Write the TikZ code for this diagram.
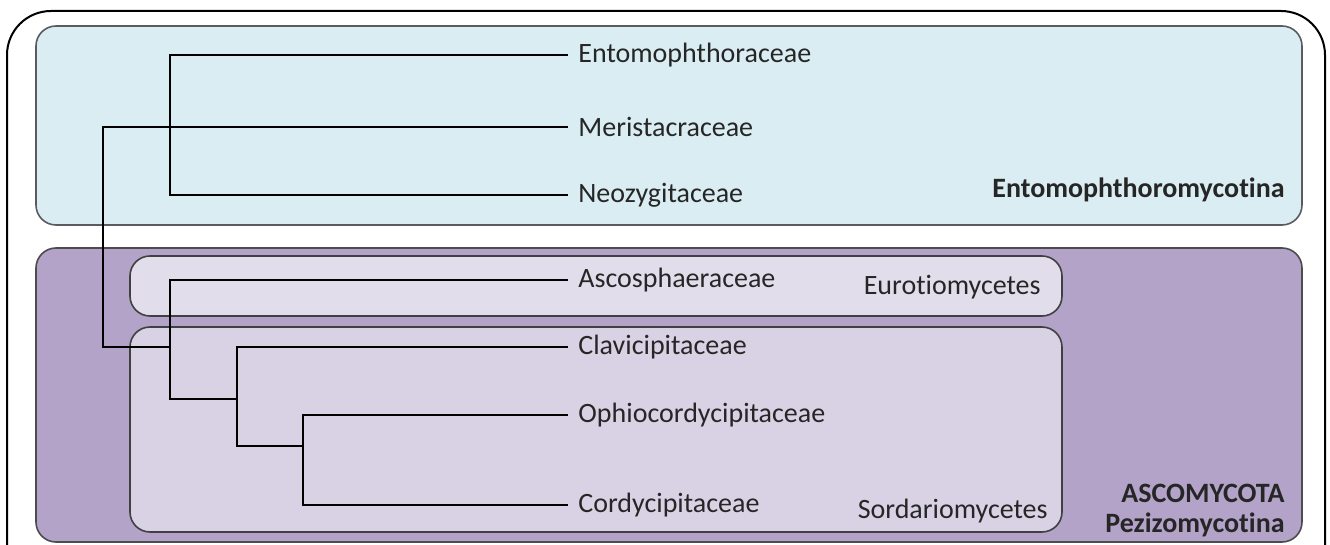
\documentclass[tikz,border=0pt]{standalone}
\usepackage{fontspec}
\setmainfont{Carlito}[Ligatures={NoCommon,NoContextual}]
\definecolor{bluefill}{HTML}{DAEDF3}
\definecolor{purplefill}{HTML}{B3A3C8}
\definecolor{eurofill}{HTML}{E2DDEB}
\definecolor{sordfill}{HTML}{D9D1E4}
\definecolor{boxline}{HTML}{5A5A60}
\definecolor{textcol}{HTML}{262626}
\begin{document}
\begin{tikzpicture}[x=0.5pt,y=-0.5pt,
  taxon/.style={anchor=west,inner sep=0pt,font=\fontsize{14}{16}\selectfont,text=textcol},
  grouplabel/.style={anchor=east,inner sep=0pt,font=\fontsize{14}{16}\selectfont,text=textcol},
  boldlabel/.style={anchor=east,inner sep=0pt,font=\fontsize{14}{16}\selectfont\bfseries,text=textcol,align=right},
  branch/.style={line width=1.4pt,black},
  groupbox/.style={draw=boxline,line width=0.8pt,rounded corners=10pt}]
\useasboundingbox (0,0) rectangle (1330,545);
% outer frame (open at bottom)
\draw[line width=1pt,rounded corners=22pt] (7,560) -- (7,11) -- (1325,11) -- (1325,560);
% group boxes
\draw[groupbox,fill=bluefill] (36,26) rectangle (1302,225);
\draw[groupbox,fill=purplefill,draw=black!70] (36,248) rectangle (1302,542);
\draw[groupbox,fill=eurofill,draw=black!75] (130,256) rectangle (1062,316);
\draw[groupbox,fill=sordfill,draw=black!75] (130,327) rectangle (1062,532);
% leaves
\node[taxon] (ento) at (578,55) {Entomophthoraceae};
\node[taxon] (meri) at (578,127) {Meristacraceae};
\node[taxon] (neoz) at (578,195) {Neozygitaceae};
\node[taxon] (asco) at (578,280) {Ascosphaeraceae};
\node[taxon] (clav) at (578,347) {Clavicipitaceae};
\node[taxon] (ophi) at (578,415) {Ophiocordycipitaceae};
\node[taxon] (cord) at (578,505) {Cordycipitaceae};
% group labels
\node[boldlabel] (entomyc) at (1285,190) {Entomophthoromycotina};
\node[grouplabel] (euro) at (1041,287) {Eurotiomycetes};
\node[grouplabel] (sord) at (1048,511) {Sordariomycetes};
\node[boldlabel] (ascomy) at (1285,493) {ASCOMYCOTA};
\node[boldlabel] (pezi) at (1285,525) {Pezizomycotina};
% internal nodes
\coordinate (root) at (103,127);
\coordinate (rootlow) at (103,347);
\coordinate (n2) at (170,347);
\coordinate (n3) at (237,399);
\coordinate (n4) at (303,446);
% branches
\draw[branch] ([xshift=-5pt]ento.west) -| (170,127) |- ([xshift=-5pt]neoz.west);
\draw[branch] ([xshift=-5pt]meri.west) -- (root) -- (rootlow) -- (n2);
\draw[branch] ([xshift=-5pt]asco.west) -| (170,399) -- (n3);
\draw[branch] ([xshift=-5pt]clav.west) -| (237,446) -- (n4);
\draw[branch] ([xshift=-5pt]ophi.west) -| (303,505) -- ([xshift=-5pt]cord.west);
\end{tikzpicture}
\end{document}
